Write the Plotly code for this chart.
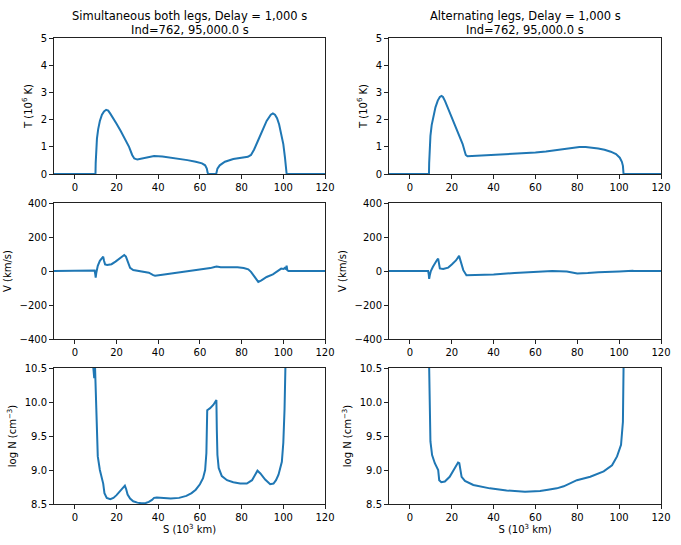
import plotly.graph_objects as go

# panel data (S in 10^3 km)
s_T_sim = [-10, 9.9, 10.0, 10.2, 10.6, 11.2, 12, 13, 14, 15, 16, 17, 18, 20, 22, 24, 26, 27.5, 28.5, 30,
           32, 35, 38, 42, 46, 50, 54, 58, 61, 62.5, 63.3, 63.7, 64, 67.8, 68, 68.4, 69.5, 72, 76, 80,
           83, 84.5, 86, 88, 90, 92, 94, 95, 96, 97, 98, 99, 100, 100.8, 101.3, 101.6, 120]
T_sim = [0, 0, 0.4, 0.9, 1.3, 1.65, 1.95, 2.18, 2.3, 2.36, 2.33, 2.22, 2.08, 1.85, 1.58, 1.3, 1.0, 0.7, 0.57, 0.53,
         0.56, 0.62, 0.66, 0.64, 0.6, 0.56, 0.51, 0.45, 0.39, 0.32, 0.2, 0.05, 0, 0, 0.08, 0.2, 0.32, 0.45, 0.55, 0.6,
         0.63, 0.7, 0.9, 1.25, 1.6, 1.95, 2.18, 2.23, 2.18, 2.05, 1.82, 1.5, 1.1, 0.6, 0.2, 0, 0]

s_T_alt = [-10, 9.1, 9.2, 9.4, 9.8, 10.4, 11.2, 12.2, 13.3, 14.3, 15.1, 15.8, 16.8, 18, 19.5, 21, 22.5, 24,
           25.2, 26, 26.7, 27.5, 30, 35, 40, 45, 50, 55, 60, 65, 70, 75, 78, 81, 84, 87, 90, 93, 96, 98.5,
           100.3, 101.3, 101.8, 102, 102.1, 120]
T_alt = [0, 0, 0.4, 0.9, 1.4, 1.8, 2.15, 2.45, 2.7, 2.83, 2.87, 2.83, 2.68, 2.45, 2.17, 1.9, 1.62, 1.35,
         1.1, 0.88, 0.7, 0.65, 0.66, 0.68, 0.7, 0.72, 0.74, 0.76, 0.79, 0.83, 0.88, 0.94, 0.97, 0.99, 0.99, 0.97,
         0.94, 0.89, 0.82, 0.73, 0.6, 0.45, 0.3, 0.1, 0, 0]

s_V_sim = [-10, 5, 9.5, 9.8, 10.0, 10.3, 11, 12, 13, 13.6, 14.0, 14.5, 15.5, 17.6, 19.5, 21.5, 23, 23.7,
           24.5, 25.5, 26.5, 28, 30, 33.6, 35.5, 37.6, 38.5, 42, 50, 58, 63, 64, 65, 67, 68, 70, 74.4, 78,
           81, 83.2, 84.5, 85.6, 86.7, 88, 89.5, 92, 95, 98, 99, 100, 100.7, 101.2, 101.6, 101.9, 102.5, 120]
V_sim = [0, 1, 3, -20, -39, -10, 30, 60, 78, 84, 60, 39, 36, 40, 55, 72, 86, 94,
         85, 50, 18, 6, 2, -3, -10, -24, -28, -22, -8, 6, 14, 13, 17, 24, 26, 22, 24, 22,
         18, 10, -5, -24, -45, -64, -55, -35, -20, 3, 14, 12, 18, 10, 31, 5, 0, 0]

s_V_alt = [-10, 8.7, 9.0, 9.2, 9.5, 10, 11, 12, 13, 13.5, 14.0, 14.3, 15.9, 18.3, 20, 22, 23.5, 24.0,
           24.5, 25.5, 27, 30, 40, 50, 60, 68, 75, 80, 85, 90, 100, 104, 105.5, 106, 106.5, 107, 120]
V_alt = [0, 0, -20, -46, -25, 0, 25, 50, 66, 73, 40, 15, 12, 20, 38, 62, 89, 70,
         40, 5, -25, -24, -20, -12, -5, 0, -3, -15, -12, -7, -3, 0, 3, 5, 1, 0, 0]

s_N_sim = [-10, 8, 8.6, 9.0, 9.3, 9.45, 9.6, 9.9, 10.2, 10.5, 11, 12, 13, 13.6, 14.2, 15.3, 17, 18.5,
           20, 21.7, 23, 24, 24.6, 25.3, 26.5, 28, 30, 32, 34, 35.5, 37, 38, 39.3, 42, 46, 50, 53.5, 56,
           58, 60, 61.5, 62.5, 63.1, 63.5, 64.9, 66.5, 67.5, 67.9, 68.1, 68.4, 69, 70.5, 73, 76, 79.3,
           82.5, 85, 86.5, 87.6, 89, 91.3, 93.7, 95.3, 96.5, 97.7, 99.3, 100, 100.6, 101.2, 101.5, 102, 120]
N_sim = [13, 11.5, 10.6, 10.45, 10.35, 10.5, 10.6, 10.3, 9.96, 9.5, 9.2, 9.0, 8.88, 8.8, 8.66, 8.59, 8.57, 8.59,
         8.63, 8.69, 8.74, 8.77, 8.72, 8.64, 8.58, 8.54, 8.52, 8.51, 8.515, 8.53, 8.56, 8.59, 8.595, 8.585, 8.58,
         8.59, 8.62, 8.66, 8.71, 8.79, 8.88, 9.0, 9.25, 9.88, 9.91, 9.96, 10.0, 10.03, 9.6, 9.22, 9.03, 8.91,
         8.85, 8.82, 8.8, 8.8, 8.85, 8.92, 8.99, 8.95, 8.86, 8.79, 8.8, 8.85, 8.93, 9.12, 9.4, 9.9, 10.5, 11.0,
         12, 13]

s_N_alt = [-10, 8.5, 9.2, 9.5, 9.8, 10.6, 11.9, 13.5, 14, 15, 16.7, 19, 21.5, 23, 23.6, 24.2, 24.7, 26.3,
           30.3, 38.2, 46.2, 55, 62.2, 66, 70.2, 73.5, 76.6, 79.8, 86.2, 92.6, 96.6, 99, 100.9, 101.8,
           102.1, 102.5, 120]
N_alt = [13, 12, 10.5, 9.71, 9.42, 9.22, 9.1, 9.0, 8.85, 8.82, 8.83, 8.9, 9.03, 9.11, 9.1, 8.98, 8.9, 8.84,
         8.78, 8.73, 8.7, 8.68, 8.69, 8.71, 8.73, 8.76, 8.8, 8.85, 8.9, 8.98, 9.07, 9.2, 9.37, 9.71,
         10.5, 12, 13]

title_line1 = ["Simultaneous both legs, Delay = 1,000 s", "Alternating legs, Delay = 1,000 s"]
title_line2 = ["Ind=762, 95,000.0 s", "Ind=762, 95,000.0 s"]

W, H = 681, 545
col_x = [(54, 325), (389, 661)]
row_y = [(38, 174), (203, 339), (368, 504)]

panels = [
    [(s_T_sim, T_sim), (s_T_alt, T_alt)],
    [(s_V_sim, V_sim), (s_V_alt, V_alt)],
    [(s_N_sim, N_sim), (s_N_alt, N_alt)],
]
y_titles = ["T (10<sup>6</sup> K)", "V (km/s)", "log N (cm<sup>\u22123</sup>)"]
y_ranges = [[0, 5], [-400, 400], [8.5, 10.5]]
y_ticks = [[0, 1, 2, 3, 4, 5], [-400, -200, 0, 200, 400], [8.5, 9.0, 9.5, 10.0, 10.5]]

FONT = "DejaVu Sans"
fig = go.Figure()

axis_style = dict(showline=True, linecolor="#222", linewidth=1, mirror=True, automargin=False,
                  ticks="outside", ticklen=4, tickcolor="#222", showgrid=False,
                  zeroline=False, tickfont=dict(family=FONT, size=10, color="black"))

k = 0
for r in range(3):
    for c in range(2):
        k += 1
        xs, ys = panels[r][c]
        suffix = "" if k == 1 else str(k)
        fig.add_trace(go.Scatter(x=xs, y=ys, mode="lines", xaxis="x" + suffix, yaxis="y" + suffix,
                                 line=dict(color="#1f77b4", width=2), showlegend=False))
        x0, x1 = col_x[c]
        y0, y1 = row_y[r]
        xa = dict(axis_style, domain=[x0 / W, x1 / W], range=[-10, 120],
                  tickvals=[0, 20, 40, 60, 80, 100, 120], anchor="y" + suffix)
        ya = dict(axis_style, domain=[1 - y1 / H, 1 - y0 / H], range=y_ranges[r],
                  tickvals=y_ticks[r], anchor="x" + suffix,
                  title=dict(text=y_titles[r], font=dict(family=FONT, size=10, color="black"), standoff=6))
        if r == 2:
            ya["tickformat"] = ".1f"
            xa["title"] = dict(text="S (10<sup>3</sup> km)", font=dict(family=FONT, size=10, color="black"),
                               standoff=3)
        fig.update_layout({"xaxis" + suffix: xa, "yaxis" + suffix: ya})

# two-line titles, placed line by line to keep the tight spacing
for c in range(2):
    x0, x1 = col_x[c]
    for line, yc in ((title_line1[c], 16), (title_line2[c], 29.5)):
        fig.add_annotation(text=line, xref="paper", yref="paper",
                           x=(x0 + x1) / 2 / W, y=1 - yc / H,
                           xanchor="center", yanchor="middle", showarrow=False,
                           font=dict(family=FONT, size=11.5, color="black"))

fig.update_layout(width=W, height=H, margin=dict(l=0, r=0, t=0, b=0),
                  plot_bgcolor="white", paper_bgcolor="white",
                  font=dict(family=FONT, color="black"))

fig.write_html("out.html", config={"displayModeBar": False},
               post_script="document.body.style.margin = '0';")
